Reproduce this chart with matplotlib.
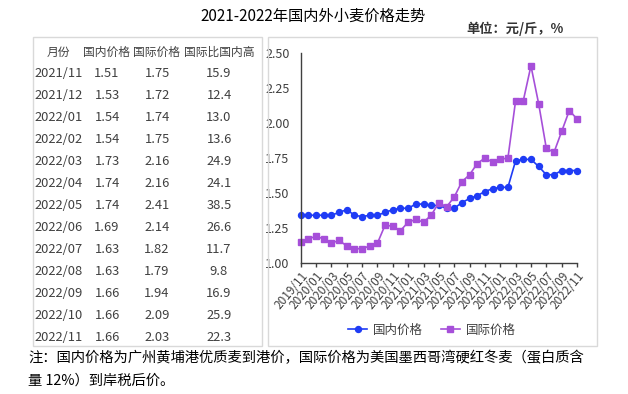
import matplotlib.pyplot as plt
from matplotlib.patches import Rectangle

plt.rcParams['font.family'] = ['Noto Sans CJK SC', 'DejaVu Sans']

months = ["2019/11", "2019/12", "2020/01", "2020/02", "2020/03", "2020/04",
          "2020/05", "2020/06", "2020/07", "2020/08", "2020/09", "2020/10",
          "2020/11", "2020/12", "2021/01", "2021/02", "2021/03", "2021/04",
          "2021/05", "2021/06", "2021/07", "2021/08", "2021/09", "2021/10",
          "2021/11", "2021/12", "2022/01", "2022/02", "2022/03", "2022/04",
          "2022/05", "2022/06", "2022/07", "2022/08", "2022/09", "2022/10",
          "2022/11"]
domestic = [1.34, 1.34, 1.34, 1.34, 1.34, 1.36, 1.38, 1.34, 1.33, 1.34,
            1.34, 1.36, 1.38, 1.39, 1.39, 1.42, 1.42, 1.41, 1.41, 1.39,
            1.39, 1.43, 1.46, 1.48, 1.51, 1.53, 1.54, 1.54, 1.73, 1.74,
            1.74, 1.69, 1.63, 1.63, 1.66, 1.66, 1.66]
international = [1.15, 1.17, 1.19, 1.17, 1.14, 1.16, 1.12, 1.10, 1.10, 1.12,
                 1.14, 1.27, 1.26, 1.23, 1.29, 1.31, 1.29, 1.34, 1.43, 1.40,
                 1.47, 1.58, 1.63, 1.71, 1.75, 1.72, 1.74, 1.75, 2.16, 2.16,
                 2.41, 2.14, 1.82, 1.79, 1.94, 2.09, 2.03]

table_header = ["月份", "国内价格", "国际价格", "国际比国内高"]
table_months = months[-13:]
table_domestic = domestic[-13:]
table_international = international[-13:]
table_ratio = [15.9, 12.4, 13.0, 13.6, 24.9, 24.1, 38.5, 26.6, 11.7, 9.8,
               16.9, 25.9, 22.3]

blue = "#1f3cf5"
purple = "#a64fd9"
grey = "#404040"

W, H = 628, 394
fig = plt.figure(figsize=(W / 100, H / 100), dpi=100)


def fx(px):
    return px / W


def fy(py):
    return 1 - py / H


# panel frames
for x0, x1 in [(33, 262), (268, 597)]:
    fig.patches.append(Rectangle((fx(x0), fy(346)), fx(x1 - x0), (346 - 37) / H,
                                 transform=fig.transFigure, fill=False,
                                 edgecolor="#d9d9d9", linewidth=1))

fig.text(fx(313), fy(16), "2021-2022年国内外小麦价格走势", ha="center",
         va="center", fontsize=11, color="black")
fig.text(fx(515), fy(29), "单位：元/斤，%", ha="center", va="center",
         fontsize=9.5, color="#333333", fontweight="bold")

# table
col_x = [58, 107, 157, 219]
for cx, h in zip(col_x, table_header):
    fig.text(fx(cx), fy(52), h, ha="center", va="center", fontsize=8.5,
             color=grey)
for i in range(len(table_months)):
    y = fy(73.3 + i * 22.0)
    fig.text(fx(34), y, table_months[i], ha="left", va="center",
             fontsize=9.3, color=grey)
    fig.text(fx(col_x[1]), y, "{:.2f}".format(table_domestic[i]), ha="center",
             va="center", fontsize=9.3, color=grey)
    fig.text(fx(col_x[2]), y, "{:.2f}".format(table_international[i]),
             ha="center", va="center", fontsize=9.3, color=grey)
    fig.text(fx(col_x[3]), y, "{:.1f}".format(table_ratio[i]), ha="center",
             va="center", fontsize=9.3, color=grey)

# chart
ax = fig.add_axes([fx(300.7), fy(262.7), fx(577 - 300.7), (262.7 - 53.3) / H])
x = list(range(len(months)))
ax.plot(x, domestic, color=blue, marker="o", markersize=4.3, linewidth=1.2,
        label="国内价格", clip_on=False)
ax.plot(x, international, color=purple, marker="s", markersize=4.3,
        linewidth=1.2, label="国际价格", clip_on=False)
ax.set_xlim(0, len(months) - 1)
ax.set_ylim(1.0, 2.5)
ax.set_yticks([1.0, 1.25, 1.5, 1.75, 2.0, 2.25, 2.5])
ax.set_yticklabels(["{:.2f}".format(v) for v in ax.get_yticks()])
ax.set_xticks(x[::2])
ax.set_xticklabels(months[::2], rotation=50, ha="right", va="top",
                   rotation_mode="anchor")
for s in ["top", "right"]:
    ax.spines[s].set_visible(False)
for s in ["left", "bottom"]:
    ax.spines[s].set_color("#404040")
    ax.spines[s].set_linewidth(1)
ax.tick_params(axis="y", length=0, pad=8, labelsize=9, labelcolor=grey)
ax.tick_params(axis="x", length=3, width=1, color="#404040", pad=2,
               labelsize=8.5, labelcolor=grey)

fig.legend(loc="center", bbox_to_anchor=(fx(432), fy(330)), ncol=2,
           frameon=False, fontsize=9, handlelength=1.5, columnspacing=1.4,
           handletextpad=0.5, labelcolor=grey)

fig.text(fx(28), fy(358), "注：国内价格为广州黄埔港优质麦到港价，国际价格为美国墨西哥湾硬红冬麦（蛋白质含",
         ha="left", va="center", fontsize=10.3, color="black")
fig.text(fx(28), fy(381), "量 12%）到岸税后价。", ha="left", va="center",
         fontsize=10.3, color="black")

fig.savefig("out.png", dpi=100)
